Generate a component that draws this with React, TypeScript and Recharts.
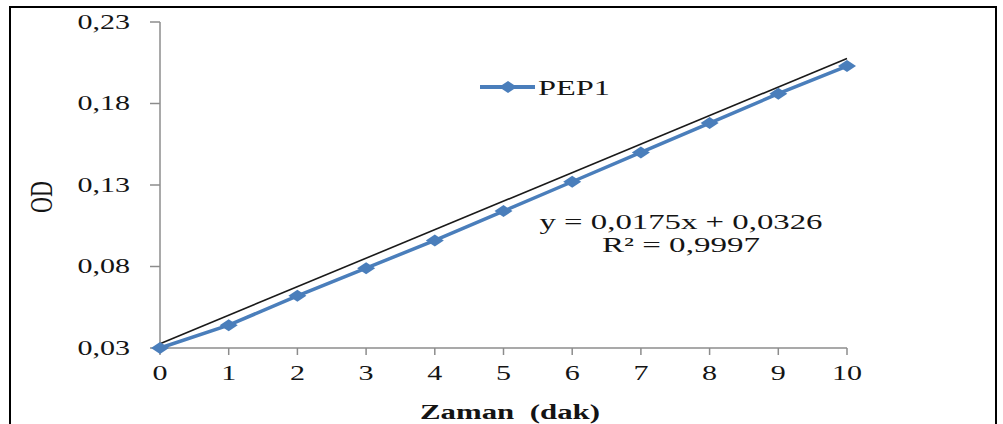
import { Line, LineChart, XAxis, YAxis } from "recharts";

// PEP1 absorbance over time
const MINUTES = [0, 1, 2, 3, 4, 5, 6, 7, 8, 9, 10];
const OD_VALUES = [0.03, 0.044, 0.062, 0.079, 0.096, 0.114, 0.132, 0.15, 0.168, 0.186, 0.203];
const Y_TICKS = [0.03, 0.08, 0.13, 0.18, 0.23];
const SERIES_NAME = "PEP1";

// linear trendline as reported
const TREND_SLOPE = 0.0175;
const TREND_INTERCEPT = 0.0326;
const TREND_R2 = 0.9997;

const BLUE = "#4a7ebb";
const AXIS = "#8c8c8c";
const INK = "#141414";
const SERIF = '"Liberation Serif", "Times New Roman", serif';
const SX = 1.43; // wide serif look

const comma = (v: number, d: number) => v.toFixed(d).replace(".", ",");

const points = MINUTES.map((m, i) => ({ m, od: OD_VALUES[i] }));
const trend = [MINUTES[0], MINUTES[MINUTES.length - 1]].map((m) => ({
  m,
  fit: TREND_INTERCEPT + TREND_SLOPE * m,
}));

function Diamond({ cx, cy, hw = 9, hh = 6 }: { cx?: number; cy?: number; hw?: number; hh?: number }) {
  if (cx == null || cy == null) return null;
  return (
    <polygon
      points={`${cx - hw},${cy} ${cx},${cy - hh} ${cx + hw},${cy} ${cx},${cy + hh}`}
      fill={BLUE}
    />
  );
}

function YTick({ x, y, payload }: any) {
  return (
    <text
      transform={`translate(${x},${y}) scale(${SX},1)`}
      textAnchor="end"
      dominantBaseline="central"
      fontFamily={SERIF}
      fontSize={21}
      fill={INK}
    >
      {comma(payload.value, 2)}
    </text>
  );
}

function XTick({ x, y, payload }: any) {
  return (
    <text
      transform={`translate(${x},${y + 10}) scale(${SX},1)`}
      textAnchor="middle"
      dominantBaseline="central"
      fontFamily={SERIF}
      fontSize={21}
      fill={INK}
    >
      {payload.value}
    </text>
  );
}

export default function App() {
  return (
    <div
      style={{
        position: "absolute",
        left: 0,
        top: 0,
        width: 1003,
        height: 424,
        overflow: "hidden",
        background: "#fff",
      }}
    >
      <div
        style={{
          position: "absolute",
          left: 9,
          top: 6,
          width: 984,
          height: 440,
          border: "2px solid #000",
        }}
      />
      <LineChart
        width={1003}
        height={424}
        margin={{ top: 22, right: 156, bottom: 36, left: 100 }}
        style={{ position: "absolute", left: 0, top: 0 }}
      >
        <XAxis
          type="number"
          dataKey="m"
          domain={[0, 10]}
          ticks={MINUTES}
          interval={0}
          allowDuplicatedCategory={false}
          stroke={AXIS}
          strokeWidth={1.5}
          tickSize={7}
          tickMargin={8}
          tick={<XTick />}
          height={40}
        />
        <YAxis
          type="number"
          domain={[0.03, 0.23]}
          ticks={Y_TICKS}
          width={60}
          stroke={AXIS}
          strokeWidth={1.5}
          tickSize={10}
          tickMargin={20}
          tick={<YTick />}
        />
        <Line
          data={points}
          dataKey="od"
          name={SERIES_NAME}
          stroke={BLUE}
          strokeWidth={3.5}
          dot={(p: any) => <Diamond key={p.index} cx={p.cx} cy={p.cy} />}
          activeDot={false}
          isAnimationActive={false}
        />
        <Line
          data={trend}
          dataKey="fit"
          legendType="none"
          stroke="#1a1a1a"
          strokeWidth={1.6}
          dot={false}
          activeDot={false}
          isAnimationActive={false}
        />
      </LineChart>
      <svg
        width={1003}
        height={424}
        style={{ position: "absolute", left: 0, top: 0, pointerEvents: "none" }}
      >
        {/* legend */}
        <line x1={480} y1={87} x2={535} y2={87} stroke={BLUE} strokeWidth={4} />
        <Diamond cx={508} cy={87} />
        <text
          x={538}
          y={87}
          dominantBaseline="central"
          fontFamily={SERIF}
          fontSize={22}
          fill={INK}
          textLength={72}
          lengthAdjust="spacingAndGlyphs"
        >
          {SERIES_NAME}
        </text>
        <text
          transform={`translate(42,197) scale(${SX},1) rotate(-90)`}
          textAnchor="middle"
          dominantBaseline="central"
          fontFamily={SERIF}
          fontSize={22}
          fill={INK}
        >
          OD
        </text>
        <text
          x={510}
          y={412}
          textAnchor="middle"
          dominantBaseline="central"
          fontFamily={SERIF}
          fontWeight="bold"
          fontSize={20}
          fill={INK}
          textLength={180}
          lengthAdjust="spacingAndGlyphs"
          style={{ whiteSpace: "pre" }}
        >
          {"Zaman  (dak)"}
        </text>
        <text
          x={681}
          y={222}
          textAnchor="middle"
          dominantBaseline="central"
          fontFamily={SERIF}
          fontSize={21}
          fill={INK}
          textLength={283}
          lengthAdjust="spacingAndGlyphs"
        >
          {`y = ${comma(TREND_SLOPE, 4)}x + ${comma(TREND_INTERCEPT, 4)}`}
        </text>
        <text
          x={681}
          y={245}
          textAnchor="middle"
          dominantBaseline="central"
          fontFamily={SERIF}
          fontSize={21}
          fill={INK}
          textLength={158}
          lengthAdjust="spacingAndGlyphs"
        >
          {`R² = ${comma(TREND_R2, 4)}`}
        </text>
      </svg>
    </div>
  );
}
